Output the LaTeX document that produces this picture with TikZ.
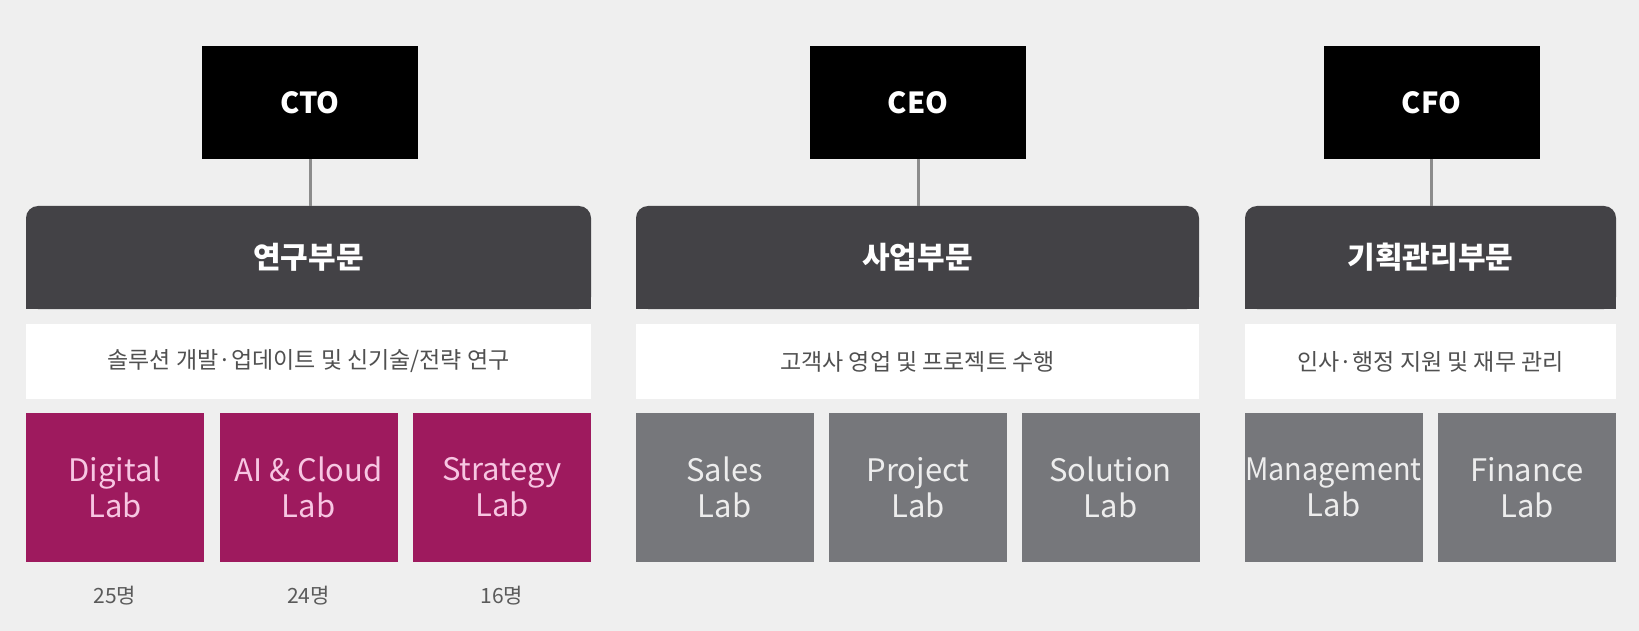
\documentclass[tikz,border=0pt]{standalone}
\usepackage{fontspec}
\setmainfont{Noto Sans CJK KR}
\usetikzlibrary{backgrounds}
\definecolor{bgc}{HTML}{EFEFEF}
\definecolor{darkbar}{HTML}{434246}
\definecolor{labred}{HTML}{9E1A5E}
\definecolor{pinktext}{HTML}{F7C6E2}
\definecolor{labgray}{HTML}{76777B}
\definecolor{labtext}{HTML}{EDEDED}
\definecolor{desctext}{HTML}{505050}
\definecolor{counttext}{HTML}{5A5A5A}
\definecolor{linkgray}{HTML}{8C8C8C}
\begin{document}
\begin{tikzpicture}[x=1pt,y=-1pt,
  every node/.style={inner sep=0pt, outer sep=0pt},
  exec/.style={fill=black, text=white, minimum width=216pt, minimum height=113pt,
    font=\fontsize{29}{34}\selectfont\bfseries},
  divbox/.style={fill=darkbar, rounded corners=12pt, minimum height=103pt, text=white,
    font=\fontsize{30}{36}\selectfont\bfseries},
  desc/.style={fill=white, minimum height=75pt, text=desctext,
    font=\fontsize{23}{28}\selectfont},
  lab/.style={minimum width=178pt, minimum height=149pt, align=center,
    font=\fontsize{31}{36}\selectfont},
  rlab/.style={lab, fill=labred, text=pinktext},
  glab/.style={lab, fill=labgray, text=labtext},
  count/.style={text=counttext, font=\fontsize{21}{26}\selectfont},
  link/.style={draw=linkgray, line width=3pt}]
\begin{pgfonlayer}{background}
\fill[bgc] (0,0) rectangle (1639,631);
\end{pgfonlayer}
\useasboundingbox (0,0) rectangle (1639,631);

% executives
\node[exec] (cto) at (310,102.5) {CTO};
\node[exec] (ceo) at (918,102.5) {CEO};
\node[exec] (cfo) at (1431.5,102.5) {CFO};

% divisions
\node[divbox, minimum width=565pt] (d1) at (308.5,257.5) {연구부문};
\node[divbox, minimum width=563pt] (d2) at (917.5,257.5) {사업부문};
\node[divbox, minimum width=371pt] (d3) at (1430.5,257.5) {기획관리부문};
\begin{pgfonlayer}{background}
\fill[darkbar] (d1.west) rectangle (d1.south east);
\fill[darkbar] (d2.west) rectangle (d2.south east);
\fill[darkbar] (d3.west) rectangle (d3.south east);
\end{pgfonlayer}

% descriptions
\node[desc, minimum width=565pt] (t1) at (308.5,361.5) {솔루션 개발·업데이트 및 신기술/전략 연구};
\node[desc, minimum width=563pt] (t2) at (917.5,361.5) {고객사 영업 및 프로젝트 수행};
\node[desc, minimum width=371pt] (t3) at (1430.5,361.5) {인사·행정 지원 및 재무 관리};

% labs
\node[rlab] (l1) at (115,487.5) {Digital\\Lab};
\node[rlab] (l2) at (308.5,487.5) {AI \& Cloud\\Lab};
\node[rlab] (l3) at (502,487.5) {Strategy\\Lab};
\node[glab] (l4) at (724.5,487.5) {Sales\\Lab};
\node[glab] (l5) at (918,487.5) {Project\\Lab};
\node[glab] (l6) at (1110.5,487.5) {Solution\\Lab};
\node[glab] (l7) at (1333.5,487.5) {\scalebox{0.93}[1]{Management}\\Lab};
\node[glab] (l8) at (1527,487.5) {Finance\\Lab};

% head counts
\node[count] (c1) at (115,596) {25명};
\node[count] (c2) at (308.5,596) {24명};
\node[count] (c3) at (502,596) {16명};

% connectors
\draw[link] (cto.south) -- (cto.south |- d1.north);
\draw[link] (ceo.south) -- (ceo.south |- d2.north);
\draw[link] (cfo.south) -- (cfo.south |- d3.north);
\end{tikzpicture}
\end{document}
